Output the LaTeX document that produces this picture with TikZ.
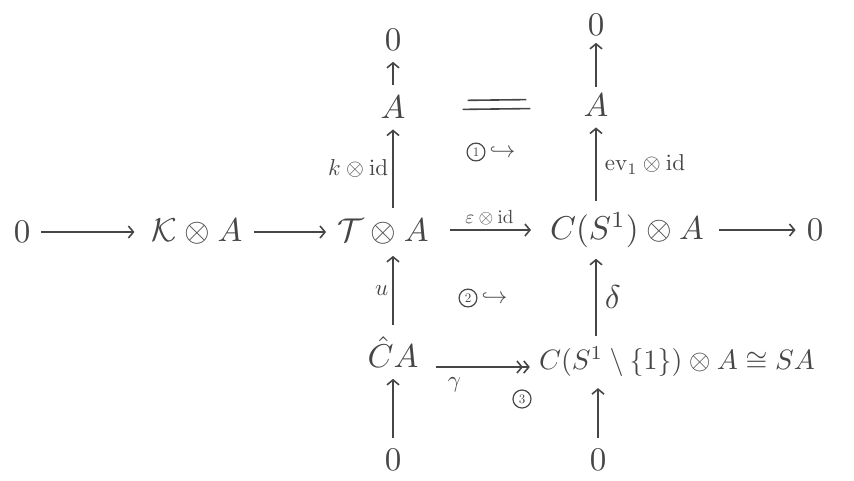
\documentclass[tikz,border=0pt]{standalone}
\usepackage{graphicx}
\usepackage{amsmath,amssymb}
\usetikzlibrary{arrows.meta,calc}
\definecolor{inkc}{RGB}{70,70,70}
\newcommand{\ob}[1]{\scalebox{3.3}{$#1$}}
\newcommand{\obs}[1]{\scalebox{2.8}{$#1$}}
\newcommand{\lb}[1]{\scalebox{2.3}{$#1$}}
\newcommand{\lbs}[1]{\scalebox{1.9}{$#1$}}
\begin{document}
\begin{tikzpicture}[x=1pt,y=-1pt,
  ink/.style={draw=inkc, line width=1.6pt, shorten <=6pt, shorten >=6pt, -{Straight Barb[length=5pt,width=12pt]}},
  inktwo/.style={draw=inkc, line width=1.6pt, -{Straight Barb[length=5pt,width=12pt]Straight Barb[length=5pt,width=12pt]}},
  obj/.style={text=inkc, inner sep=5pt},
  lab/.style={text=inkc, inner sep=4pt},
  circ/.style={circle, draw=inkc, line width=1.2pt, inner sep=2.5pt, text=inkc}
]
\useasboundingbox (0,0) rectangle (854,480);

% objects
\node[obj] (z1) at (22,232) {\ob{0}};
\node[obj] (K) at (197,232) {\ob{\mathcal{K}\otimes A}};
\node[obj] (T) at (383,232) {\ob{\mathcal{T}\otimes A}};
\node[obj] (C1) at (627,230) {\ob{C(S^1)\otimes A}};
\node[obj] (z2) at (815,230) {\ob{0}};
\node[obj] (A1) at (393,107) {\ob{A}};
\node[obj] (z3) at (393,40) {\ob{0}};
\node[obj] (A2) at (596,105) {\ob{A}};
\node[obj] (z4) at (596,25) {\ob{0}};
\node[obj] (H) at (393,352) {\ob{\hat{C}A}};
\node[obj] (C2) at (677,362) {\obs{C(S^1\setminus\{1\})\otimes A\cong SA}};
\node[obj] (z5) at (393,460) {\ob{0}};
\node[obj] (z6) at (598,460) {\ob{0}};

% horizontal row
\draw[ink, shorten >=12pt] (z1) -- (K);
\draw[ink] (K) -- (T);
\draw[ink, shorten <=16pt, shorten >=14pt] (T.east |- C1) -- node[lab, above] {\lbs{\varepsilon\otimes\mathrm{id}}} (C1);
\draw[ink, shorten <=10pt] (C1) -- (z2);

% top squares
\draw[ink] (T.north -| A1) -- node[lab, left] {\lb{k\otimes\mathrm{id}}} (A1);
\draw[ink] (A1) -- (z3);
\draw[ink] (C1.north -| A2) -- node[lab, right, xshift=4pt] {\lb{\mathrm{ev}_1\otimes\mathrm{id}}} (A2);
\draw[ink, shorten <=2pt, shorten >=2pt] (A2) -- (z4);
\draw[draw=inkc, line width=1.6pt, shorten <=52pt, shorten >=48pt] ([yshift=-3pt]A1.east) -- ([yshift=-3pt]A2.west);
\draw[draw=inkc, line width=1.6pt, shorten <=57pt, shorten >=52pt] ([yshift=6pt]A1.east) -- ([yshift=6pt]A2.west);

% bottom squares
\draw[ink] (H) -- node[lab, left] {\lb{u}} (T.south -| H);
\draw[ink] (C2.north -| A2) -- node[lab, right, xshift=4pt] {\ob{\delta}} (C1.south -| A2);
\draw[inktwo] ($(H.east)+(12,15)$) -- node[lab, below=6pt, pos=0.2] (g) {\lb{\gamma}} ($(C2.west |- H.east)+(-4,15)$);
\draw[ink] (z5) -- (H);
\draw[ink] (z6) -- (C2.south -| z6);

% commutativity labels
\node[circ] (n1) at (476,152) {\scalebox{1.3}{1}};
\node[lab, anchor=west, inner sep=1pt, xshift=3pt] (h1) at (n1.east) {\lb{\hookrightarrow}};
\node[circ] (n2) at (468,298) {\scalebox{1.3}{2}};
\node[lab, anchor=west, inner sep=1pt, xshift=3pt] (h2) at (n2.east) {\lb{\hookrightarrow}};
\node[circ] (n3) at (522,399) {\scalebox{1.3}{3}};
\end{tikzpicture}
\end{document}
